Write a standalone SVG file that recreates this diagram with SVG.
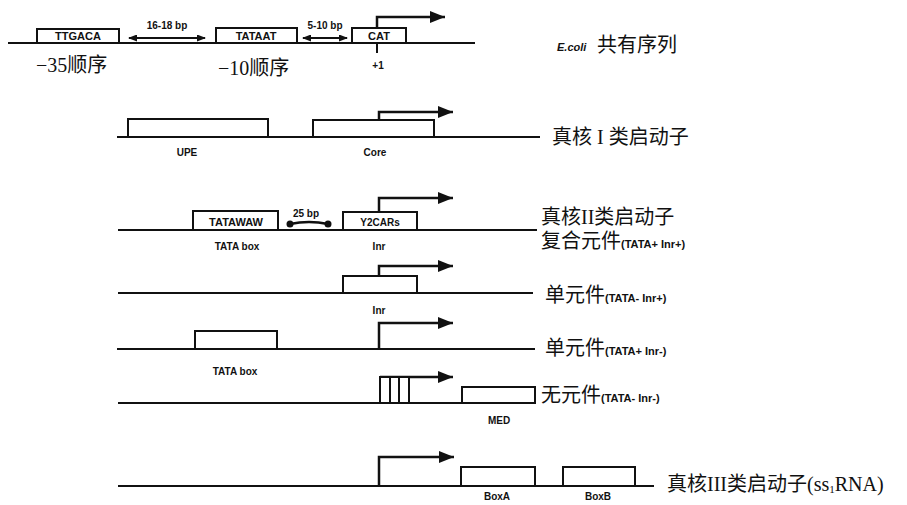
<svg xmlns="http://www.w3.org/2000/svg" width="907" height="505" viewBox="0 0 907 505">
<defs>
<marker id="ah" markerUnits="userSpaceOnUse" markerWidth="16" markerHeight="12" refX="15" refY="6" orient="auto"><path d="M0,0 L15,6 L0,12 z" fill="#111"/></marker>
<marker id="sh" markerUnits="userSpaceOnUse" markerWidth="9" markerHeight="7" refX="8" refY="3.5" orient="auto-start-reverse"><path d="M0,0 L9,3.5 L0,7 z" fill="#111"/></marker>
<marker id="dot" markerUnits="userSpaceOnUse" markerWidth="8" markerHeight="8" refX="4" refY="4"><circle cx="4" cy="4" r="3.5" fill="#111"/></marker>
</defs>
<style>
.ln{stroke:#111;stroke-width:2;fill:none}
.bx{stroke:#111;stroke-width:2;fill:#fff}
.pr{stroke:#111;stroke-width:2.5;fill:none;marker-end:url(#ah)}
.da{stroke:#111;stroke-width:2;fill:none;marker-start:url(#sh);marker-end:url(#sh)}
.sm{font-family:"Liberation Sans",Arial,sans-serif;font-weight:bold;font-size:10px;fill:#111;text-anchor:middle}
.bt{font-family:"Liberation Sans",Arial,sans-serif;font-weight:bold;font-size:11px;fill:#111;text-anchor:middle}
.cj{font-family:"Liberation Serif","Noto Sans CJK SC",serif;font-size:20px;fill:#111}
.cs{font-family:"Liberation Sans",Arial,sans-serif;font-weight:bold;font-size:11px;fill:#111}
</style>
<rect width="907" height="505" fill="#fff"/>

<g id="connectors">
<line class="ln" x1="8" y1="43" x2="475" y2="43"/>
<line class="ln" x1="377" y1="43" x2="377" y2="53"/>
<line class="da" x1="129" y1="38" x2="205" y2="38"/>
<line class="da" x1="303" y1="38" x2="347" y2="38"/>
<path class="pr" d="M377,28 V17 H445"/>

<line class="ln" x1="117" y1="137" x2="540" y2="137"/>
<path class="pr" d="M379,120 V112 H453"/>

<line class="ln" x1="118" y1="230" x2="537" y2="230"/>
<path d="M290,224 Q309,220 328,224" stroke="#111" stroke-width="2.5" fill="none" marker-start="url(#dot)" marker-end="url(#dot)"/>
<path class="pr" d="M379,212 V198 H453"/>

<line class="ln" x1="118" y1="293" x2="533" y2="293"/>
<path class="pr" d="M379,276 V266 H453"/>

<line class="ln" x1="117" y1="349" x2="535" y2="349"/>
<path class="pr" d="M379,349 V323 H453"/>

<line class="ln" x1="118" y1="403" x2="535" y2="403"/>
<path class="pr" d="M380,377 H453"/>

<line class="ln" x1="118" y1="486" x2="654" y2="486"/>
<path class="pr" d="M379,486 V457 H454"/>
</g>

<g id="row1">
<g id="n-ttgaca"><rect class="bx" x="37" y="29" width="82" height="14"/><text class="bt" x="78" y="40">TTGACA</text></g>
<g id="n-tataat"><rect class="bx" x="216" y="28" width="81" height="15"/><text class="bt" x="256" y="40">TATAAT</text></g>
<g id="n-cat"><rect class="bx" x="352" y="28" width="54" height="15"/><text class="bt" x="379" y="40" font-weight="normal">CAT</text></g>
<text class="sm" x="167" y="29">16-18 bp</text>
<text class="sm" x="325" y="29">5-10 bp</text>
<text class="sm" x="378" y="69">+1</text>
<text class="cj" x="36" y="72" font-size="19">−35顺序</text>
<text class="cj" x="218" y="75" font-size="19">−10顺序</text>
<text x="557" y="51" font-family="Liberation Sans,Arial,sans-serif" font-style="italic" font-weight="bold" font-size="11" fill="#111">E.coli</text>
<text class="cj" x="597" y="52">共有序列</text>
</g>

<g id="row2">
<g id="n-upe"><rect class="bx" x="128" y="119" width="140" height="18"/><text class="sm" x="187" y="156">UPE</text></g>
<g id="n-core"><rect class="bx" x="313" y="120" width="121" height="17"/><text class="sm" x="375" y="156">Core</text></g>
<text class="cj" x="552" y="144">真核 I 类启动子</text>
</g>

<g id="row3">
<g id="n-tatawaw"><rect class="bx" x="193" y="211" width="85" height="19"/><text class="bt" x="236" y="226" font-size="12">TATAWAW</text><text class="sm" x="237" y="250">TATA box</text></g>
<text class="sm" x="306" y="217">25 bp</text>
<g id="n-y2cars"><rect class="bx" x="343" y="212" width="74" height="18"/><text class="sm" x="380" y="226">Y2CARs</text><text class="sm" x="379" y="250">Inr</text></g>
<text class="cj" x="541" y="224">真核II类启动子</text>
<text class="cj" x="541" y="248">复合元件<tspan class="cs">(TATA+ Inr+)</tspan></text>
</g>

<g id="row4">
<g id="n-inr"><rect class="bx" x="343" y="276" width="74" height="17"/><text class="sm" x="379" y="314">Inr</text></g>
<text class="cj" x="545" y="302">单元件<tspan class="cs">(TATA- Inr+)</tspan></text>
</g>

<g id="row5">
<g id="n-tatabox"><rect class="bx" x="195" y="331" width="82" height="18"/><text class="sm" x="235" y="375">TATA box</text></g>
<text class="cj" x="545" y="355">单元件<tspan class="cs">(TATA+ Inr-)</tspan></text>
</g>

<g id="row6">
<g id="n-stripes"><rect class="bx" x="380" y="377" width="29" height="26"/><line class="ln" x1="390" y1="377" x2="390" y2="403"/><line class="ln" x1="399" y1="377" x2="399" y2="403"/></g>
<g id="n-med"><rect class="bx" x="462" y="387" width="73" height="16"/><text class="sm" x="499" y="424">MED</text></g>
<text class="cj" x="541" y="402">无元件<tspan class="cs">(TATA- Inr-)</tspan></text>
</g>

<g id="row7">
<g id="n-boxa"><rect class="bx" x="461" y="467" width="74" height="19"/><text class="sm" x="497" y="500">BoxA</text></g>
<g id="n-boxb"><rect class="bx" x="563" y="467" width="72" height="19"/><text class="sm" x="598" y="500">BoxB</text></g>
<text class="cj" x="667" y="491">真核III类启动子(ss<tspan font-size="11" dy="2">1</tspan><tspan dy="-2">RNA)</tspan></text>
</g>
</svg>
